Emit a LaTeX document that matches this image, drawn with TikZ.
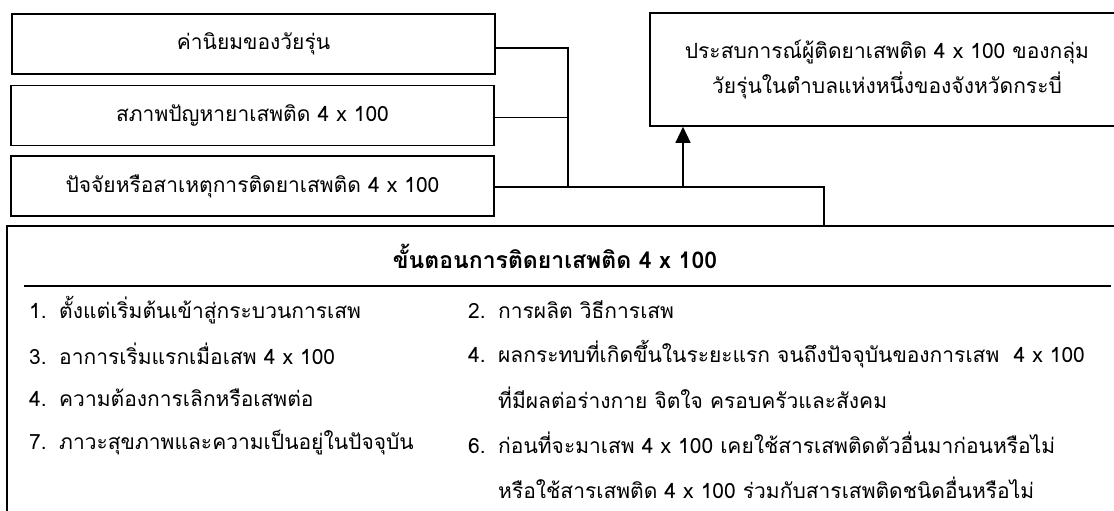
\documentclass[tikz,border=0pt]{standalone}
\usepackage{fontspec}
\setmainfont[Script=Thai]{Loma}
\usetikzlibrary{arrows.meta}

\newcommand{\fs}{\fontsize{21}{35}\selectfont}
\newcommand{\itemno}[1]{\makebox[30pt][l]{#1}}

\tikzset{
  factor/.style={draw, line width=1.6pt, minimum width=483pt, minimum height=60pt, inner sep=0pt, font=\fs},
  link/.style={line width=1.3pt},
  item/.style={anchor=west, inner sep=0pt, font=\fs},
}

\begin{document}
\begin{tikzpicture}[x=1pt, y=-1pt]
		\useasboundingbox (0, 0) rectangle (1114, 511);
		\clip (0, 0) rectangle (1114, 511);
		% factor boxes
		\node[factor] (value) at (253.5, 44) {ค่านิยมของวัยรุ่น};
		\node[factor] (problem) at (252.5, 115.5) {สภาพปัญหายาเสพติด 4 x 100};
		\node[factor] (cause) at (252.5, 186) {ปัจจัยหรือสาเหตุการติดยาเสพติด 4 x 100};
		\node[draw, line width=1.6pt, minimum width=474pt, minimum height=113pt, inner sep=0pt, align=center, font=\fs] (experience) at (887, 69.5) {ประสบการณ์ผู้ติดยาเสพติด 4 x 100 ของกลุ่ม\\วัยรุ่นในตำบลแห่งหนึ่งของจังหวัดกระบี่};
		% steps table
		\draw[line width=1.6pt] (7, 540) |- (1130, 226) coordinate (steps);
		\node[font=\fontsize{23}{28}\selectfont\bfseries, inner sep=0pt] (title) at (555, 256) {ขั้นตอนการติดยาเสพติด 4 x 100};
		\coordinate (ruleL) at (24, 286);
		\coordinate (ruleR) at (1111, 286);
		\draw[line width=2pt] (ruleL) -- (ruleR);
		\foreach \i/\y/\txt in {1/310/{\itemno{1.}ตั้งแต่เริ่มต้นเข้าสู่กระบวนการเสพ}, 2/354/{\itemno{3.}อาการเริ่มแรกเมื่อเสพ 4 x 100}, 3/398/{\itemno{4.}ความต้องการเลิกหรือเสพต่อ}, 4/443/{\itemno{7.}ภาวะสุขภาพและความเป็นอยู่ในปัจจุบัน}}
			\node[item] (left\i) at (29, \y) {\txt};
		\foreach \i/\y/\txt in {1/310/{\itemno{2.}การผลิต วิธีการเสพ}, 2/354/{\itemno{4.}ผลกระทบที่เกิดขึ้นในระยะแรก จนถึงปัจจุบันของการเสพ\ \ 4 x 100}, 3/398/{\itemno{}ที่มีผลต่อร่างกาย จิตใจ ครอบครัวและสังคม}, 4/443/{\itemno{6.}ก่อนที่จะมาเสพ 4 x 100 เคยใช้สารเสพติดตัวอื่นมาก่อนหรือไม่}, 5/488/{\itemno{}หรือใช้สารเสพติด 4 x 100 ร่วมกับสารเสพติดชนิดอื่นหรือไม่}}
			\node[item] (right\i) at (468, \y) {\txt};
		% connectors
		\coordinate (join) at (568, 187);
		\coordinate (split) at (824, 187);
		\coordinate (foot) at (683, 187);
		\draw[link] ([yshift=-4pt]value.east) -| (join);
		\draw[link] ([yshift=-2pt]problem.east) -- ([yshift=-2pt]problem.east -| join);
		\draw[link] ([yshift=-1pt]cause.east) -- (split) -- (split |- steps);
		\draw[link, -{Triangle[length=16pt, width=15pt]}] (foot) -- (foot |- experience.south);
	\end{tikzpicture}
\end{document}
